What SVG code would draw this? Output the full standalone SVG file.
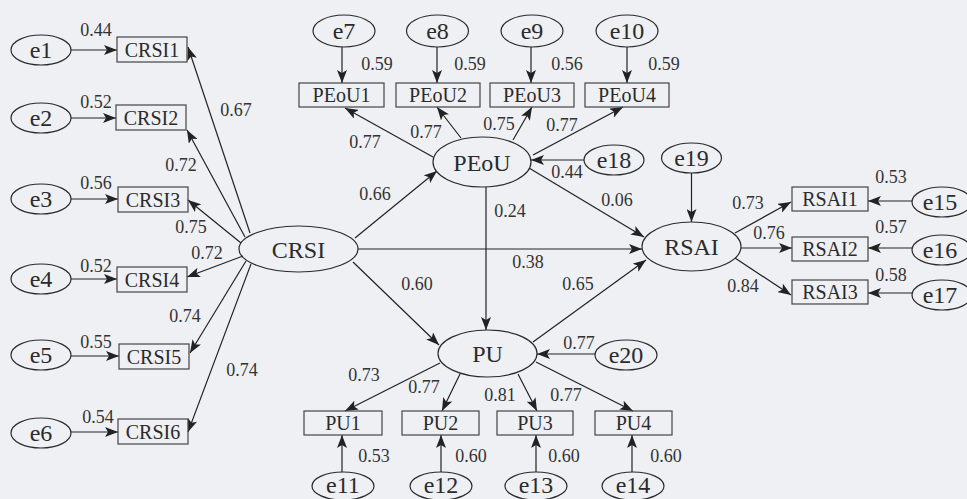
<svg xmlns="http://www.w3.org/2000/svg" width="967" height="499" viewBox="0 0 967 499">
<defs>
<marker id="ah" markerUnits="userSpaceOnUse" markerWidth="13" markerHeight="10" refX="13" refY="5" orient="auto">
<path d="M0,0 L13,5 L0,10 L3,5 z" fill="#222"/>
</marker>
<style>
.bg{fill:#eff0f4}
.el{fill:none;stroke:#2a2a2a;stroke-width:1.2}
.bx{fill:none;stroke:#444;stroke-width:1.2}
.c line{stroke:#222;stroke-width:1.2;marker-end:url(#ah)}
text{font-family:"Liberation Serif","Times New Roman",serif;fill:#2b2b2b;text-anchor:middle}
.lv{font-size:24px}
.ev{font-size:24px}
.ob{font-size:20px}
.n{font-size:18px;fill:#333}
</style>
</defs>
<rect class="bg" x="0" y="0" width="967" height="499"/>

<g class="c" id="connectors">
<line x1="71" y1="50" x2="117" y2="50"/>
<line x1="71" y1="118" x2="116" y2="118"/>
<line x1="71" y1="199" x2="118" y2="199"/>
<line x1="71" y1="279" x2="117" y2="279"/>
<line x1="71" y1="356" x2="119" y2="356"/>
<line x1="71" y1="432" x2="118" y2="432"/>
<line x1="250" y1="233" x2="188" y2="47"/>
<line x1="245" y1="237" x2="187" y2="130"/>
<line x1="241" y1="243" x2="188" y2="200"/>
<line x1="243" y1="256" x2="187" y2="277"/>
<line x1="246" y1="261" x2="190" y2="353"/>
<line x1="251" y1="264" x2="188" y2="432"/>
<line x1="342" y1="47" x2="342" y2="83"/>
<line x1="437" y1="47" x2="437" y2="83"/>
<line x1="531" y1="47" x2="531" y2="83"/>
<line x1="627" y1="47" x2="627" y2="83"/>
<line x1="433" y1="157" x2="345" y2="108"/>
<line x1="461" y1="138" x2="437" y2="107"/>
<line x1="513" y1="140" x2="532" y2="107"/>
<line x1="533" y1="155" x2="623" y2="107"/>
<line x1="584" y1="160" x2="531" y2="160"/>
<line x1="355" y1="238" x2="437" y2="171"/>
<line x1="358" y1="249" x2="642" y2="249"/>
<line x1="353" y1="262" x2="439" y2="345"/>
<line x1="486" y1="187" x2="486" y2="330"/>
<line x1="529" y1="168" x2="644" y2="237"/>
<line x1="533" y1="342" x2="646" y2="260"/>
<line x1="691.5" y1="173" x2="691.5" y2="222"/>
<line x1="735" y1="233" x2="791" y2="202"/>
<line x1="741" y1="248" x2="792" y2="248"/>
<line x1="735" y1="258" x2="791" y2="295"/>
<line x1="912" y1="201" x2="868" y2="201"/>
<line x1="912" y1="248" x2="868" y2="248"/>
<line x1="912" y1="293" x2="868" y2="293"/>
<line x1="595" y1="354" x2="537" y2="354"/>
<line x1="440" y1="363" x2="345" y2="411"/>
<line x1="460" y1="374" x2="442" y2="411"/>
<line x1="518" y1="374" x2="537" y2="411"/>
<line x1="536" y1="362" x2="633" y2="411"/>
<line x1="342" y1="472" x2="342" y2="435"/>
<line x1="441" y1="472" x2="441" y2="435"/>
<line x1="536" y1="472" x2="536" y2="435"/>
<line x1="632" y1="472" x2="632" y2="435"/>
</g>

<g id="labels">
<text class="n" x="96" y="36">0.44</text>
<text class="n" x="96" y="108">0.52</text>
<text class="n" x="96" y="189">0.56</text>
<text class="n" x="96" y="272">0.52</text>
<text class="n" x="96" y="348">0.55</text>
<text class="n" x="98" y="423">0.54</text>
<text class="n" x="236" y="116">0.67</text>
<text class="n" x="181" y="171">0.72</text>
<text class="n" x="191" y="233">0.75</text>
<text class="n" x="207" y="259">0.72</text>
<text class="n" x="185" y="322">0.74</text>
<text class="n" x="242" y="376">0.74</text>
<text class="n" x="377" y="70">0.59</text>
<text class="n" x="470" y="70">0.59</text>
<text class="n" x="567" y="70">0.56</text>
<text class="n" x="664" y="70">0.59</text>
<text class="n" x="365" y="148">0.77</text>
<text class="n" x="426" y="138">0.77</text>
<text class="n" x="499" y="130">0.75</text>
<text class="n" x="562" y="131">0.77</text>
<text class="n" x="567" y="178">0.44</text>
<text class="n" x="375" y="200">0.66</text>
<text class="n" x="528" y="268">0.38</text>
<text class="n" x="417" y="290">0.60</text>
<text class="n" x="510" y="217">0.24</text>
<text class="n" x="617" y="206">0.06</text>
<text class="n" x="578" y="290">0.65</text>
<text class="n" x="748" y="209">0.73</text>
<text class="n" x="769" y="239">0.76</text>
<text class="n" x="743" y="292">0.84</text>
<text class="n" x="891" y="183">0.53</text>
<text class="n" x="891" y="233">0.57</text>
<text class="n" x="891" y="281">0.58</text>
<text class="n" x="579" y="349">0.77</text>
<text class="n" x="364" y="381">0.73</text>
<text class="n" x="424" y="393">0.77</text>
<text class="n" x="500" y="401">0.81</text>
<text class="n" x="566" y="401">0.77</text>
<text class="n" x="374" y="462">0.53</text>
<text class="n" x="471" y="462">0.60</text>
<text class="n" x="564" y="462">0.60</text>
<text class="n" x="666" y="462">0.60</text>
</g>

<g id="e1"><ellipse class="el" cx="41" cy="50" rx="30" ry="15"/><text class="ev" x="41" y="58">e1</text></g>
<g id="e2"><ellipse class="el" cx="41" cy="118" rx="30" ry="15"/><text class="ev" x="41" y="126">e2</text></g>
<g id="e3"><ellipse class="el" cx="41" cy="199" rx="30" ry="15"/><text class="ev" x="41" y="207">e3</text></g>
<g id="e4"><ellipse class="el" cx="41" cy="279" rx="30" ry="15"/><text class="ev" x="41" y="287">e4</text></g>
<g id="e5"><ellipse class="el" cx="41" cy="355" rx="30" ry="15"/><text class="ev" x="41" y="363">e5</text></g>
<g id="e6"><ellipse class="el" cx="41" cy="433" rx="30" ry="15"/><text class="ev" x="41" y="441">e6</text></g>

<g id="CRSI1"><rect class="bx" x="117" y="37" width="70" height="25"/><text class="ob" x="152" y="56.5">CRSI1</text></g>
<g id="CRSI2"><rect class="bx" x="116" y="105" width="70" height="25"/><text class="ob" x="151" y="124.5">CRSI2</text></g>
<g id="CRSI3"><rect class="bx" x="118" y="187" width="70" height="25"/><text class="ob" x="153" y="206.5">CRSI3</text></g>
<g id="CRSI4"><rect class="bx" x="117" y="267" width="70" height="25"/><text class="ob" x="152" y="286.5">CRSI4</text></g>
<g id="CRSI5"><rect class="bx" x="119" y="344" width="70" height="25"/><text class="ob" x="154" y="363.5">CRSI5</text></g>
<g id="CRSI6"><rect class="bx" x="118" y="419" width="70" height="25"/><text class="ob" x="153" y="438.5">CRSI6</text></g>

<g id="CRSI"><ellipse class="el" cx="298.5" cy="249" rx="59.5" ry="23"/><text class="lv" x="298.5" y="257.5">CRSI</text></g>

<g id="e7"><ellipse class="el" cx="344" cy="31" rx="31" ry="16"/><text class="ev" x="344" y="39">e7</text></g>
<g id="e8"><ellipse class="el" cx="437.5" cy="31" rx="31" ry="16"/><text class="ev" x="437.5" y="39">e8</text></g>
<g id="e9"><ellipse class="el" cx="532" cy="31" rx="31" ry="16"/><text class="ev" x="532" y="39">e9</text></g>
<g id="e10"><ellipse class="el" cx="627" cy="31" rx="31" ry="16"/><text class="ev" x="627" y="39">e10</text></g>

<g id="PEoU1"><rect class="bx" x="299" y="83" width="85" height="24"/><text class="ob" x="341.5" y="102">PEoU1</text></g>
<g id="PEoU2"><rect class="bx" x="396" y="83" width="84" height="24"/><text class="ob" x="438" y="102">PEoU2</text></g>
<g id="PEoU3"><rect class="bx" x="490" y="83" width="84" height="24"/><text class="ob" x="532" y="102">PEoU3</text></g>
<g id="PEoU4"><rect class="bx" x="585" y="83" width="84" height="24"/><text class="ob" x="627" y="102">PEoU4</text></g>

<g id="PEoU"><ellipse class="el" cx="482" cy="162" rx="49" ry="25"/><text class="lv" x="482" y="170.5">PEoU</text></g>
<g id="e18"><ellipse class="el" cx="614" cy="160" rx="30" ry="15"/><text class="ev" x="614" y="168">e18</text></g>

<g id="e19"><ellipse class="el" cx="691.5" cy="158" rx="30" ry="15"/><text class="ev" x="691.5" y="166">e19</text></g>
<g id="RSAI"><ellipse class="el" cx="691.5" cy="246.5" rx="49.5" ry="24.5"/><text class="lv" x="691.5" y="255">RSAI</text></g>

<g id="RSAI1"><rect class="bx" x="792" y="187" width="76" height="24"/><text class="ob" x="830" y="206">RSAI1</text></g>
<g id="RSAI2"><rect class="bx" x="792" y="237" width="76" height="24"/><text class="ob" x="830" y="256">RSAI2</text></g>
<g id="RSAI3"><rect class="bx" x="792" y="280" width="76" height="24"/><text class="ob" x="830" y="299">RSAI3</text></g>

<g id="e15"><ellipse class="el" cx="942" cy="202" rx="30" ry="15"/><text class="ev" x="940" y="210">e15</text></g>
<g id="e16"><ellipse class="el" cx="942" cy="250" rx="30" ry="15"/><text class="ev" x="940" y="258">e16</text></g>
<g id="e17"><ellipse class="el" cx="942" cy="295" rx="30" ry="15"/><text class="ev" x="940" y="303">e17</text></g>

<g id="PU"><ellipse class="el" cx="487.5" cy="353.5" rx="49.5" ry="23.5"/><text class="lv" x="487.5" y="362">PU</text></g>
<g id="e20"><ellipse class="el" cx="626" cy="355" rx="31" ry="15"/><text class="ev" x="626" y="363">e20</text></g>

<g id="PU1"><rect class="bx" x="304" y="411" width="78" height="24"/><text class="ob" x="343" y="430">PU1</text></g>
<g id="PU2"><rect class="bx" x="402" y="411" width="77" height="24"/><text class="ob" x="440.5" y="430">PU2</text></g>
<g id="PU3"><rect class="bx" x="497" y="411" width="76" height="24"/><text class="ob" x="535" y="430">PU3</text></g>
<g id="PU4"><rect class="bx" x="595" y="411" width="77" height="24"/><text class="ob" x="633.5" y="430">PU4</text></g>

<g id="e11"><ellipse class="el" cx="343" cy="486" rx="31" ry="14"/><text class="ev" x="343" y="493">e11</text></g>
<g id="e12"><ellipse class="el" cx="441" cy="486" rx="31" ry="14"/><text class="ev" x="441" y="493">e12</text></g>
<g id="e13"><ellipse class="el" cx="536" cy="486" rx="31" ry="14"/><text class="ev" x="536" y="493">e13</text></g>
<g id="e14"><ellipse class="el" cx="633" cy="486" rx="31" ry="14"/><text class="ev" x="633" y="493">e14</text></g>
</svg>
